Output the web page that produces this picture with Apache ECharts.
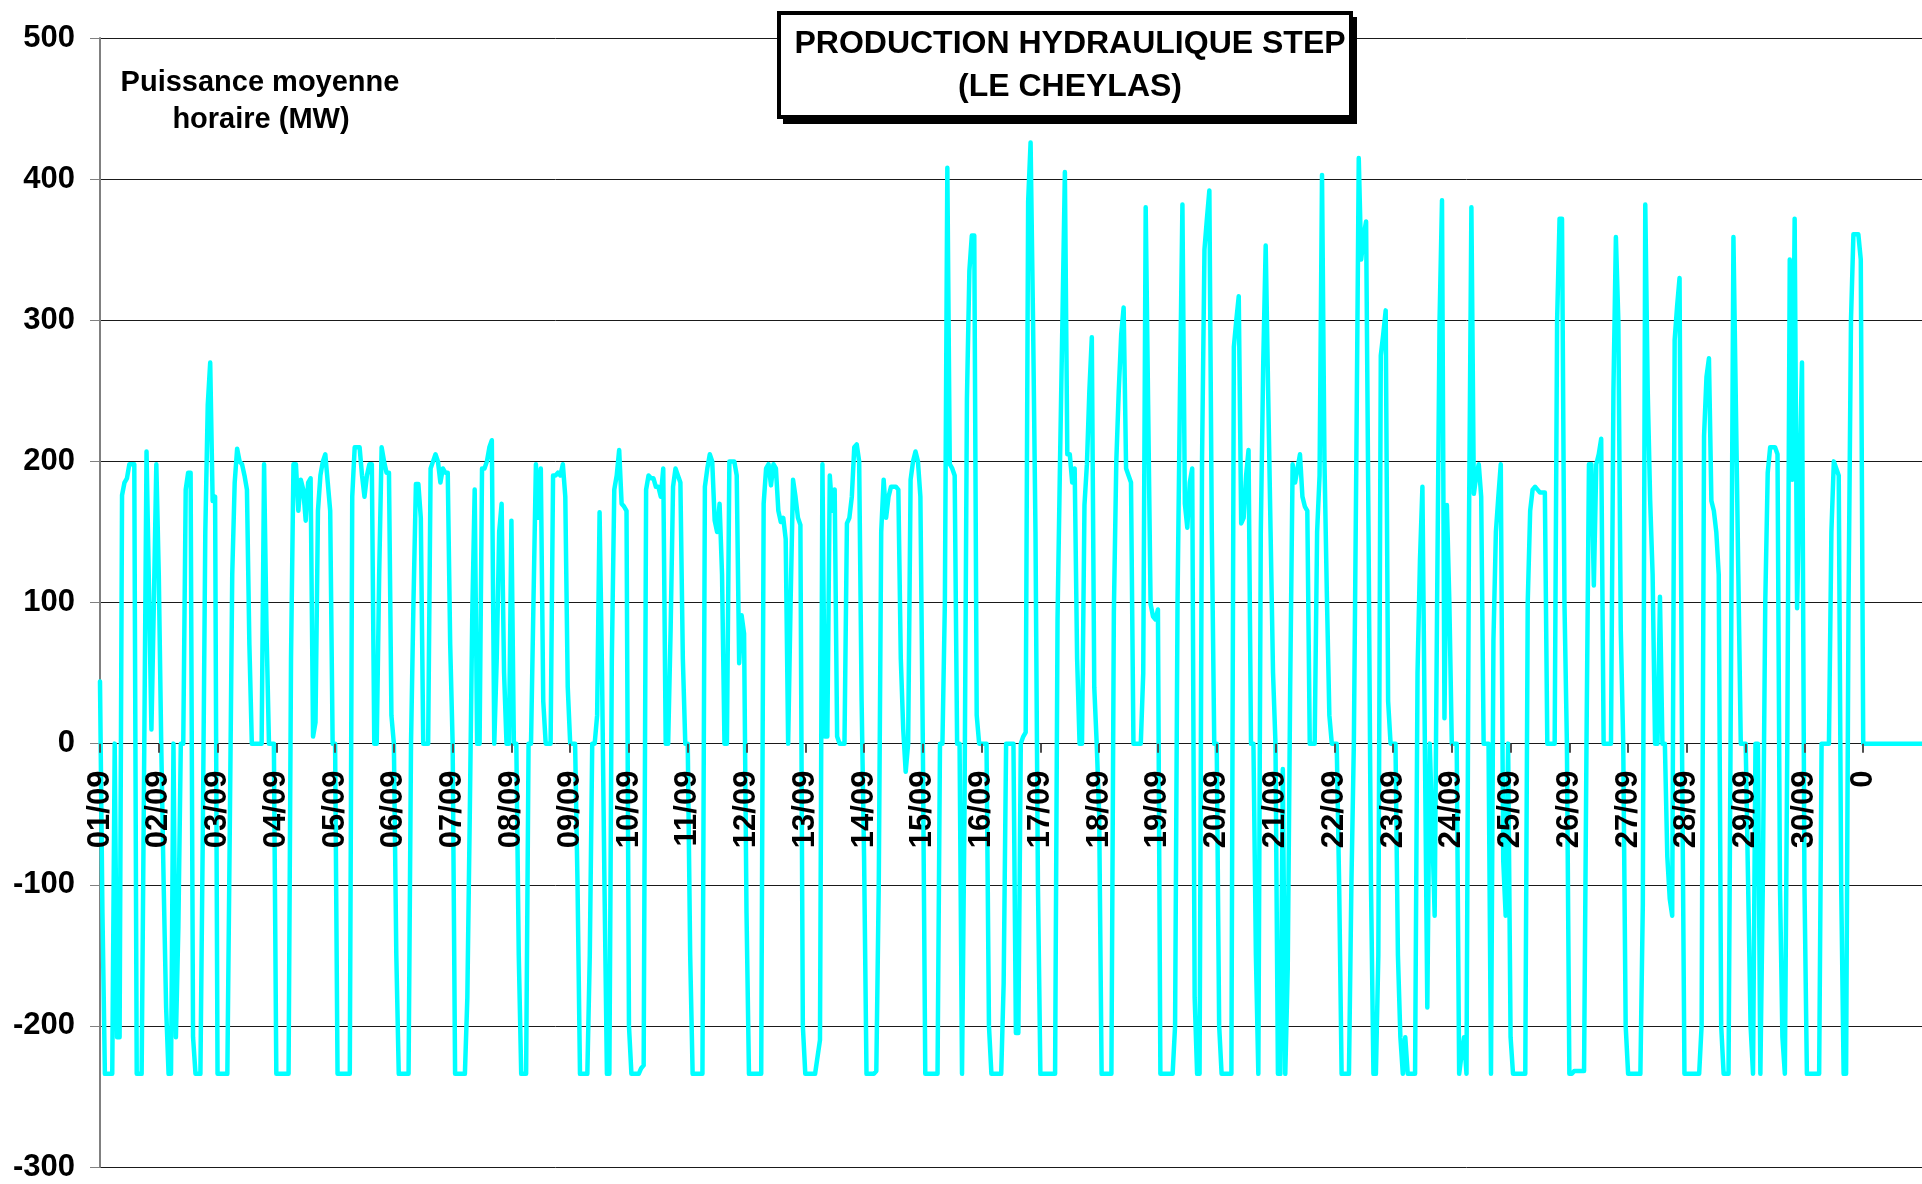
<!DOCTYPE html>
<html>
<head>
<meta charset="utf-8">
<script src="https://cdn.jsdelivr.net/npm/echarts@6/dist/echarts.min.js"></script>
<style>
html,body{margin:0;padding:0;background:#fff;}
#chart{width:1922px;height:1184px;}
</style>
</head>
<body>
<div id="chart"></div>
<script>
// Hourly mean power (MW), one array per day of September
const day01 = [44,-120,-234,-234,-234,-234,0,-208,-208,176,185,188,198,198,198,-234,-234,-234,-20,207,110,10,100,198];
const day02 = [120,0,-100,-187,-234,-234,0,-208,-130,0,0,180,192,192,-208,-234,-234,-234,-60,150,240,270,172,175];
const day03 = [-234,-234,-234,-234,-234,-60,120,185,209,200,198,190,180,70,0,0,0,0,0,198,80,0,0,0];
const day04 = [-234,-234,-234,-234,-234,-234,60,198,198,165,187,180,158,185,188,5,15,165,190,200,205,185,165,0];
const day05 = [0,-234,-234,-234,-234,-234,-234,175,210,210,210,190,175,190,198,198,0,0,120,210,200,192,192,20];
const day06 = [0,-150,-234,-234,-234,-234,-234,0,100,184,184,160,0,0,0,195,200,205,200,185,195,192,192,70];
const day07 = [0,-234,-234,-234,-234,-234,-180,-50,90,180,0,0,195,195,200,210,215,0,60,150,170,50,0,0];
const day08 = [158,0,0,-150,-234,-234,-234,0,0,100,198,160,195,30,0,0,0,190,190,192,190,198,175,40];
const day09 = [0,0,0,-100,-234,-234,-234,-234,-150,0,0,20,164,50,-100,-234,-234,60,180,190,208,170,168,165];
const day10 = [-200,-234,-234,-234,-234,-230,-228,180,190,188,188,182,182,175,195,0,0,80,182,195,190,185,60,0];
const day11 = [0,-150,-234,-234,-234,-234,-234,182,195,205,200,158,150,170,120,0,0,200,200,200,190,57,91,78];
const day12 = [-120,-234,-234,-234,-234,-234,-234,170,195,198,183,198,195,165,157,160,145,0,100,187,175,160,155,-200];
const day13 = [-234,-234,-234,-234,-234,-222,-210,198,5,5,190,165,180,5,0,0,0,156,160,175,210,212,200,30];
const day14 = [-80,-234,-234,-234,-234,-232,-100,150,187,160,175,182,182,182,180,60,10,-20,0,187,200,207,200,175];
const day15 = [0,-234,-234,-234,-234,-234,-234,0,0,100,408,198,195,190,0,0,-234,-50,244,335,360,360,20,0];
const day16 = [0,0,0,-200,-234,-234,-234,-234,-234,-170,0,0,0,0,-205,-205,0,5,8,384,426,300,150,-100];
const day17 = [-234,-234,-234,-234,-234,-234,-234,88,198,300,405,205,205,185,195,60,0,0,169,198,250,288,40,0];
const day18 = [-50,-234,-234,-234,-234,-234,93,200,250,290,309,195,190,185,0,0,0,0,50,380,240,99,90,88];
const day19 = [95,-234,-234,-234,-234,-234,-234,-200,100,250,382,170,153,185,195,-180,-234,-234,200,350,372,392,150,0];
const day20 = [0,-200,-234,-234,-234,-234,-234,281,300,317,156,160,190,208,0,0,-150,-234,150,270,353,250,150,50];
const day21 = [0,-234,-234,-18,-234,-160,40,198,185,195,205,175,168,165,0,0,0,150,190,403,200,104,20,0];
const day22 = [0,0,-100,-234,-234,-234,-234,-100,0,198,415,343,360,370,150,-100,-234,-234,-150,275,290,307,30,0];
const day23 = [0,0,-150,-208,-234,-208,-234,-234,-234,-234,50,130,182,0,-187,0,-60,-122,100,300,385,18,169,100];
const day24 = [0,0,0,-234,-220,-208,-234,150,380,177,190,198,175,0,0,0,-234,73,150,175,198,-83,-122,0];
const day25 = [-208,-234,-234,-234,-234,-234,-234,100,165,180,182,180,178,178,178,0,0,0,0,300,372,372,100,0];
const day26 = [-234,-234,-232,-232,-232,-232,-232,0,198,198,112,198,205,216,0,0,0,0,250,359,300,80,0,-200];
const day27 = [-234,-234,-234,-234,-234,-234,-114,382,250,172,120,0,0,104,0,0,-80,-110,-122,286,310,330,0,-234];
const day28 = [-234,-234,-234,-234,-234,-234,-200,218,260,273,172,165,150,120,-200,-234,-234,-234,50,359,240,120,0,0];
const day29 = [0,-100,-200,-234,0,0,-234,-100,100,192,210,210,210,205,-100,-208,-234,0,343,187,372,96,187,270];
const day30 = [-100,-234,-234,-234,-234,-234,-234,0,0,0,0,150,200,195,190,-100,-234,-234,100,300,361,361,361,343];
const tail  = [0,0,0,0,0,0,0,0,0,0,0,0,0,0,0,0,0,0,0,0,0,0,0,0,0];

// Day tick labels (one every 24 hourly points)
const dayLabels = ['01/09','02/09','03/09','04/09','05/09','06/09','07/09','08/09','09/09','10/09',
  '11/09','12/09','13/09','14/09','15/09','16/09','17/09','18/09','19/09','20/09',
  '21/09','22/09','23/09','24/09','25/09','26/09','27/09','28/09','29/09','30/09','0'];

const titleLines = ['PRODUCTION HYDRAULIQUE STEP', '(LE CHEYLAS)'];
const unitLines = ['Puissance moyenne', 'horaire (MW)'];

const Y_MIN = -300, Y_MAX = 500, Y_STEP = 100;

const values = [].concat(day01,day02,day03,day04,day05,day06,day07,day08,day09,day10,
  day11,day12,day13,day14,day15,day16,day17,day18,day19,day20,
  day21,day22,day23,day24,day25,day26,day27,day28,day29,day30,tail);
const categories = values.map((v, i) => String(i));
const HOURS = 24;
const isDayStart = (index) => index % HOURS === 0 && (index / HOURS) < dayLabels.length;

const GRID_TOP = 38, GRID_BOTTOM = 17, H = 1184;
const plotH = H - GRID_TOP - GRID_BOTTOM;
// move the category axis up to the value 0 line
const zeroOffset = -plotH * (0 - Y_MIN) / (Y_MAX - Y_MIN);

const FONT = '"Liberation Sans", Arial, sans-serif';
const chart = echarts.init(document.getElementById('chart'), null, {renderer: 'canvas'});
chart.setOption({
  animation: false,
  backgroundColor: '#ffffff',
  grid: {left: 100, right: 0, top: GRID_TOP, bottom: GRID_BOTTOM, containLabel: false, outerBoundsMode: 'none'},
  xAxis: {
    type: 'category',
    data: categories,
    boundaryGap: false,
    position: 'bottom',
    offset: zeroOffset,
    z: 10,
    axisLine: {show: false, onZero: false},
    axisTick: {show: true, interval: isDayStart, length: 9, lineStyle: {color: '#505050', width: 2}},
    axisLabel: {
      interval: isDayStart,
      rotate: 90,
      margin: 27,
      fontSize: 31,
      fontWeight: 'bold',
      fontFamily: FONT,
      color: '#000',
      hideOverlap: false,
      formatter: (value, index) => dayLabels[Math.floor(Number(value) / HOURS)] || ''
    },
    splitLine: {show: false}
  },
  yAxis: {
    type: 'value',
    min: Y_MIN,
    max: Y_MAX,
    interval: Y_STEP,
    axisLine: {show: true, lineStyle: {color: '#808080', width: 2}},
    axisTick: {show: true, length: 10, lineStyle: {color: '#808080', width: 1}},
    axisLabel: {margin: 25, fontSize: 31, fontWeight: 'bold', fontFamily: FONT, color: '#000'},
    splitLine: {show: true, lineStyle: {color: '#1a1a1a', width: 1}}
  },
  series: [{
    type: 'line',
    data: values,
    symbol: 'none',
    showSymbol: false,
    smooth: false,
    lineStyle: {color: '#00FFFF', width: 4.5, join: 'round', cap: 'round'},
    z: 3
  }],
  graphic: [
    {type: 'rect', z: 100, shape: {x: 783, y: 17, width: 574, height: 107}, style: {fill: '#000'}},
    {type: 'rect', z: 101, shape: {x: 779, y: 13, width: 572, height: 104}, style: {fill: '#fff', stroke: '#000', lineWidth: 4}},
    {type: 'text', z: 102, x: 1070, y: 44, style: {text: titleLines[0], fontSize: 32, fontWeight: 'bold', fontFamily: FONT, fill: '#000', align: 'center', verticalAlign: 'middle'}},
    {type: 'text', z: 102, x: 1070, y: 87, style: {text: titleLines[1], fontSize: 32, fontWeight: 'bold', fontFamily: FONT, fill: '#000', align: 'center', verticalAlign: 'middle'}},
    {type: 'text', z: 102, x: 260, y: 83, style: {text: unitLines[0], fontSize: 29, fontWeight: 'bold', fontFamily: FONT, fill: '#000', align: 'center', verticalAlign: 'middle'}},
    {type: 'text', z: 102, x: 261, y: 120, style: {text: unitLines[1], fontSize: 29, fontWeight: 'bold', fontFamily: FONT, fill: '#000', align: 'center', verticalAlign: 'middle'}}
  ]
});
</script>
</body>
</html>
